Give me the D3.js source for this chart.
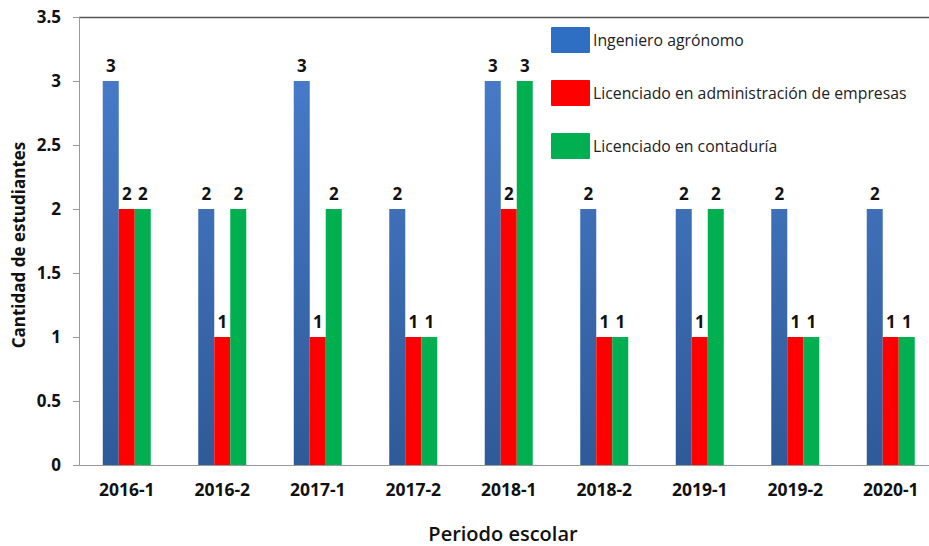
<!DOCTYPE html>
<html><head><meta charset="utf-8">
<script src="https://cdn.jsdelivr.net/npm/d3@7"></script>
<style>body{margin:0;background:#fff}svg{display:block}</style>
</head><body>
<svg id="c" width="929" height="546"></svg>
<script>
const categories = ["2016-1","2016-2","2017-1","2017-2","2018-1","2018-2","2019-1","2019-2","2020-1"];
const seriesNames = ["Ingeniero agrónomo","Licenciado en administración de empresas","Licenciado en contaduría"];
const ingeniero = [3,2,3,2,3,2,2,2,2];
const administracion = [2,1,1,1,2,1,1,1,1];
const contaduria = [2,2,2,1,3,1,2,1,1];
const yTicks = [0,0.5,1,1.5,2,2.5,3,3.5];
const seriesValues = [ingeniero, administracion, contaduria];
const colors = ["url(#blueGrad)","#FF0000","#00B050"];
const legendColors = ["#2E6FC4","#FF0000","#00B050"];

(function(){
const svg = d3.select("#c");
const font = "'Open Sans', 'Liberation Sans', sans-serif";
const mLeft = 79, mTop = 17, mBottom = 465, mRight = 938.5;
const defs = svg.append("defs");
const g = defs.append("linearGradient").attr("id","blueGrad").attr("x1",0).attr("x2",0).attr("gradientUnits","userSpaceOnUse").attr("y1",mTop).attr("y2",mBottom);
g.append("stop").attr("offset","0%").attr("stop-color","#4A7FCF");
g.append("stop").attr("offset","100%").attr("stop-color","#2F5A98");

const x = d3.scaleBand().domain(categories).range([mLeft, mRight]).paddingInner(0).paddingOuter(0);
const groupW = 48;
const x1 = d3.scaleBand().domain([0,1,2]).range([0, groupW]);
const y = d3.scaleLinear().domain([0,3.5]).range([mBottom, mTop]);

svg.append("line").attr("x1",mLeft).attr("x2",929).attr("y1",mTop+0.5).attr("y2",mTop+0.5).attr("stroke","#555").attr("stroke-width",1.5);

categories.forEach((c,i)=>{
  seriesValues.forEach((vals,s)=>{
    const bx = x(c) + x.bandwidth()/2 - groupW/2 + x1(s);
    svg.append("rect").attr("x",bx).attr("y",y(vals[i])).attr("width",x1.bandwidth()).attr("height",y(0)-y(vals[i])).attr("fill",colors[s]);
  });
});

const yAxis = d3.axisLeft(y).tickValues(yTicks).tickSize(6).tickFormat(d=>d);
const ya = svg.append("g").attr("transform",`translate(${mLeft},0)`).call(yAxis);
ya.select(".domain").attr("stroke","#999");
ya.selectAll(".tick line").attr("stroke","#999");
ya.selectAll("text").attr("font-family",font).attr("font-weight","bold").attr("font-size",17).attr("fill","#111").attr("x",-18);

const xAxis = d3.axisBottom(x).tickSize(0).tickPadding(19);
const xa = svg.append("g").attr("transform",`translate(0,${mBottom})`).call(xAxis);
xa.select(".domain").attr("stroke","#999");
xa.selectAll("text").attr("font-family",font).attr("font-weight","bold").attr("font-size",17.5).attr("fill","#111");

categories.forEach((c,i)=>{
  seriesValues.forEach((vals,s)=>{
    const bx = x(c) + x.bandwidth()/2 - groupW/2 + x1(s) + x1.bandwidth()/2;
    svg.append("text").attr("x",bx).attr("y",y(vals[i])-9).attr("text-anchor","middle")
      .attr("font-family",font).attr("font-weight","bold").attr("font-size",17).attr("fill","#111").text(vals[i]);
  });
});

svg.append("text").attr("x",503).attr("y",541).attr("text-anchor","middle").attr("font-family",font).attr("font-weight",600).attr("font-size",20).attr("fill","#111").text("Periodo escolar");
svg.append("text").attr("transform","translate(25,245) rotate(-90)").attr("text-anchor","middle").attr("font-family",font).attr("font-weight","bold").attr("font-size",17).attr("fill","#111").text("Cantidad  de estudiantes");

const leg = svg.append("g");
seriesNames.forEach((n,s)=>{
  const ly = 27 + s*53;
  leg.append("rect").attr("x",551).attr("y",ly).attr("width",39).attr("height",26).attr("fill",legendColors[s]).attr("rx",1);
  leg.append("text").attr("x",593).attr("y",ly+19).attr("font-family",font).attr("font-size",15.8).attr("fill","#222").text(n);
});
})();
</script>
</body></html>
